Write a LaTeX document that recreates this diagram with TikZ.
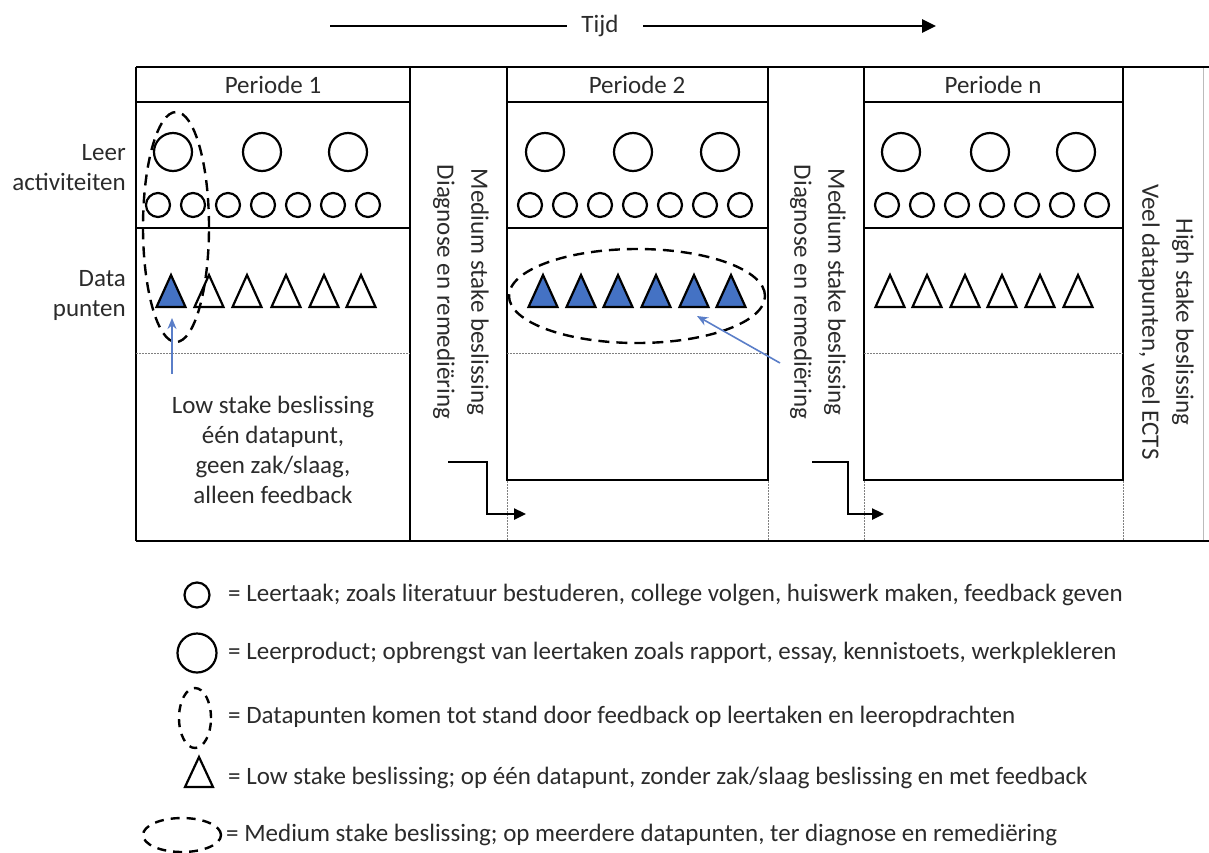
\documentclass[tikz,border=0pt]{standalone}
\usepackage{fontspec}
\setmainfont{Carlito}
\usetikzlibrary{arrows.meta,shapes.geometric}
\definecolor{txt}{HTML}{2B2B2B}
\definecolor{tblue}{HTML}{4472C4}
\definecolor{ablue}{HTML}{5A7EC8}
\definecolor{faint}{HTML}{BBBBBB}

% open or filled data-point triangle centred at x
\newcommand{\datatri}[3]{%
  \draw[line width=2.2pt, line join=miter, fill=#3] (#1-14.5,#2+16) -- (#1,#2-16) -- (#1+14.5,#2+16) -- cycle;}

\begin{document}
\begin{tikzpicture}[x=1pt,y=-1pt,
  frame/.style={line width=2.4pt, black},
  dotline/.style={line width=0.9pt, gray, dash pattern=on 1.5pt off 1.5pt},
  lbl/.style={text=txt, font=\fontsize{25}{30}\selectfont, inner sep=0pt},
  vlbl/.style={lbl, rotate=-90, align=center, font=\fontsize{25}{34}\selectfont},
  smallc/.style={circle, draw, line width=2.2pt, minimum size=24pt, inner sep=0pt},
  bigc/.style={circle, draw, line width=2.2pt, minimum size=38pt, inner sep=0pt},
  dashring/.style={draw, line width=2.4pt, dash pattern=on 11pt off 7pt},
  steparrow/.style={line width=2.4pt, -{Triangle[length=12pt,width=11pt]}},
  bluearrow/.style={ablue, line width=1.6pt, -{Stealth[length=11pt,width=9pt]}}
]
\useasboundingbox (0,0) rectangle (1209,852);

% ---- time axis ----
\node[lbl] (tijd) at (600,26) {Tijd};
\coordinate (t0) at (330,26);
\coordinate (t1) at (567,26);
\coordinate (t2) at (643,26);
\coordinate (t3) at (936,26);
\draw[line width=2.6pt] (t0) -- (t1);
\draw[line width=2.6pt, -{Triangle[length=14pt,width=13pt]}] (t2) -- (t3);

% ---- frame ----
\draw[faint, line width=1pt] (1203,67) -- (1203,541);
\draw[frame] (136,67) -- (1209,67);
\draw[frame] (136,541) -- (1209,541);
\draw[frame] (136,67) -- (136,541);
\draw[frame] (410,67) -- (410,541);
\draw[frame] (136,102) -- (410,102);
\draw[frame] (136,228) -- (410,228);

\draw[frame] (507,67) rectangle (768,480);
\draw[frame] (507,102) -- (768,102);
\draw[frame] (507,228) -- (768,228);

\draw[frame] (864,67) rectangle (1123,480);
\draw[frame] (864,102) -- (1123,102);
\draw[frame] (864,228) -- (1123,228);

\draw[dotline] (136,353) -- (410,353);
\draw[dotline] (507,353) -- (768,353);
\draw[dotline] (864,353) -- (1123,353);
\foreach \x in {507,768,864,1123} \draw[dotline] (\x,481) -- (\x,540);

% ---- titles and row labels ----
\node[lbl] (p1) at (273,85) {Periode 1};
\node[lbl] (p2) at (637,85) {Periode 2};
\node[lbl] (pn) at (993,85) {Periode n};
\node[lbl, anchor=east, align=right] (leer) at (126,168) {Leer\\activiteiten};
\node[lbl, anchor=east, align=right] (data) at (126,295) {Data\\punten};

% ---- learning activities ----
\foreach \x [count=\i] in {173,262,348} \node[bigc] (a1big\i) at (\x,152) {};
\foreach \x [count=\i] in {545,633,720} \node[bigc] (a2big\i) at (\x,152) {};
\foreach \x [count=\i] in {901,990,1076} \node[bigc] (anbig\i) at (\x,152) {};
\foreach \i in {0,...,6} {
  \node[smallc] (a1s\i) at (158+35*\i,205) {};
  \node[smallc] (a2s\i) at (530+35*\i,205) {};
  \node[smallc] (ans\i) at (887+35*\i,205) {};
}

% ---- data points ----
\datatri{171}{291}{tblue}
\foreach \x in {209,247,286,324,361} {\datatri{\x}{291}{white}}
\foreach \x in {543,581,618,656,694,731} {\datatri{\x}{291}{tblue}}
\foreach \x in {890,927,965,1002,1040,1078} {\datatri{\x}{291}{white}}

% ---- decision groupings ----
\node[dashring, ellipse, minimum width=66pt, minimum height=230pt] (e1) at (176,227) {};
\node[dashring, ellipse, minimum width=256pt, minimum height=94pt] (e2) at (637,296) {};

\coordinate (b1s) at (172,374);
\coordinate (b1e) at (172,318);
\draw[bluearrow] (b1s) -- (b1e);
\coordinate (b2s) at (780,363);
\coordinate (b2e) at (697,316);
\draw[bluearrow] (b2s) -- (b2e);

\node[lbl, align=center] (low) at (273,450)
  {Low stake beslissing\\één datapunt,\\geen zak/slaag,\\alleen feedback};

% ---- transitions between periods ----
\node[vlbl] (med1) at (461,292) {Medium stake beslissing\\Diagnose en remediëring};
\node[vlbl] (med2) at (818,292) {Medium stake beslissing\\Diagnose en remediëring};
\node[vlbl] (high) at (1166,322) {High stake beslissing\\Veel datapunten, veel ECTS};

\coordinate (s1a) at (448,462);
\coordinate (s1b) at (487,514);
\coordinate (s1c) at (526,514);
\draw[steparrow] (s1a) -| (s1b) -- (s1c);
\coordinate (s2a) at (812,462);
\coordinate (s2b) at (848,514);
\coordinate (s2c) at (884,514);
\draw[steparrow] (s2a) -| (s2b) -- (s2c);

% ---- legend ----
\node[smallc, minimum size=25pt] (k1) at (197,595) {};
\node[bigc, minimum size=39pt] (k2) at (197,653) {};
\node[dashring, ellipse, minimum width=32pt, minimum height=60pt,
      dash pattern=on 8pt off 7pt] (k3) at (195,718) {};
\draw[line width=2.2pt, line join=miter] (185,787) -- (199,757) -- (213,787) -- cycle;
\coordinate (k4) at (199,772);
\node[dashring, ellipse, minimum width=78pt, minimum height=34pt,
      dash pattern=on 9pt off 7pt] (k5) at (182,835) {};

\node[lbl, anchor=west] (l1) at (228,595) {= Leertaak; zoals literatuur bestuderen, college volgen, huiswerk maken, feedback geven};
\node[lbl, anchor=west] (l2) at (228,653) {= Leerproduct; opbrengst van leertaken zoals rapport, essay, kennistoets, werkplekleren};
\node[lbl, anchor=west] (l3) at (228,717) {= Datapunten komen tot stand door feedback op leertaken en leeropdrachten};
\node[lbl, anchor=west] (l4) at (228,778) {= Low stake beslissing; op één datapunt, zonder zak/slaag beslissing en met feedback};
\node[lbl, anchor=west] (l5) at (226,835) {= Medium stake beslissing; op meerdere datapunten, ter diagnose en remediëring};
\end{tikzpicture}
\end{document}
